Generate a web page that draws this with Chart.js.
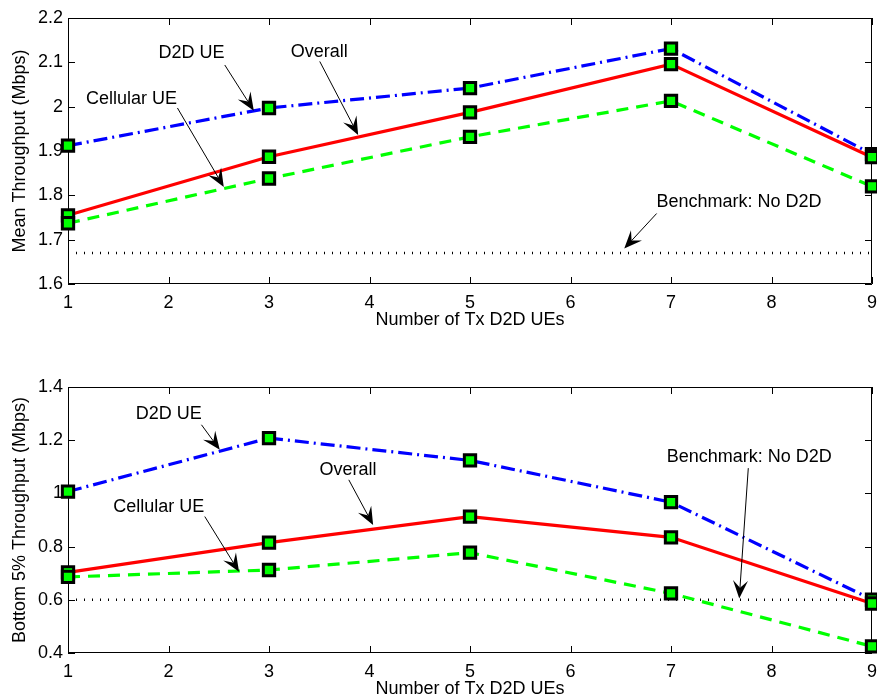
<!DOCTYPE html>
<html>
<head>
<meta charset="utf-8">
<script src="https://cdn.jsdelivr.net/npm/chart.js@4.4.0/dist/chart.umd.min.js"></script>
<style>
  html, body { margin: 0; padding: 0; background: #fff; overflow: hidden; width: 877px; height: 698px; }
  canvas { position: absolute; left: 0; }
  #mean-chart { top: 0; }
  #low-chart { top: 369px; }
</style>
</head>
<body>
<canvas id="mean-chart" width="877" height="349"></canvas>
<canvas id="low-chart" width="877" height="349"></canvas>
<script>
// x values (number of transmitting D2D UEs) and tick marks
const txUEs  = [1, 3, 5, 7, 9];
const xTicks = [1, 2, 3, 4, 5, 6, 7, 8, 9];

// Mean throughput (Mbps)
const meanD2D       = [1.912, 1.997, 2.042, 2.131, 1.893];
const meanOverall   = [1.755, 1.887, 1.987, 2.096, 1.886];
const meanCellular  = [1.737, 1.838, 1.932, 2.013, 1.820];
const meanBenchmark = 1.67;
const meanTicks     = [1.6, 1.7, 1.8, 1.9, 2.0, 2.1, 2.2];

// Bottom 5% throughput (Mbps)
const lowD2D       = [1.007, 1.208, 1.124, 0.967, 0.601];
const lowOverall   = [0.703, 0.815, 0.913, 0.835, 0.586];
const lowCellular  = [0.686, 0.712, 0.777, 0.624, 0.425];
const lowBenchmark = 0.60;
const lowTicks     = [0.4, 0.6, 0.8, 1.0, 1.2, 1.4];

// Text arrows, in data units: label centre, arrow tail, arrow head
const meanNotes = [
  { text: 'D2D UE',            at: [2.228, 2.121], from: [2.560, 2.094], to: [2.849, 1.991] },
  { text: 'Overall',           at: [3.499, 2.123], from: [3.505, 2.102], to: [3.887, 1.936] },
  { text: 'Cellular UE',       at: [1.631, 2.018], from: [2.089, 1.997], to: [2.550, 1.819] },
  { text: 'Benchmark: No D2D', at: [7.676, 1.784], from: [6.857, 1.759], to: [6.535, 1.680] }
];
const lowNotes = [
  { text: 'D2D UE',            at: [2.002, 1.299], from: [2.328, 1.258], to: [2.510, 1.164] },
  { text: 'Overall',           at: [3.787, 1.089], from: [3.794, 1.051], to: [4.036, 0.881] },
  { text: 'Cellular UE',       at: [1.903, 0.950], from: [2.361, 0.913], to: [2.702, 0.705] },
  { text: 'Benchmark: No D2D', at: [7.779, 1.135], from: [7.769, 1.095], to: [7.679, 0.605] }
];

const FONT = { family: '"Liberation Sans", Arial, Helvetica, sans-serif', size: 18 };
Chart.defaults.color = '#000';
Chart.defaults.font.family = FONT.family;

// Box around the plot plus inward ticks on all four sides (MATLAB look)
const matlabAxes = {
  id: 'matlabAxes',
  beforeDatasetsDraw(chart, args, opts) {
    const { ctx, chartArea: a, scales: { x, y } } = chart;
    const tl = 7;
    ctx.save();
    ctx.strokeStyle = '#000';
    ctx.lineWidth = 1;
    ctx.beginPath();
    ctx.rect(a.left + 0.5, a.top + 0.5, a.right - a.left - 1, a.bottom - a.top - 1);
    xTicks.forEach(v => {
      const px = Math.round(x.getPixelForValue(v)) + 0.5;
      ctx.moveTo(px, a.bottom); ctx.lineTo(px, a.bottom - tl);
      ctx.moveTo(px, a.top);    ctx.lineTo(px, a.top + tl);
    });
    opts.yTicks.forEach(v => {
      const py = Math.round(y.getPixelForValue(v)) + 0.5;
      ctx.moveTo(a.left, py);  ctx.lineTo(a.left + tl, py);
      ctx.moveTo(a.right, py); ctx.lineTo(a.right - tl, py);
    });
    ctx.stroke();
    ctx.restore();
  },
  afterDatasetsDraw(chart, args, opts) {
    const { ctx, scales: { x, y } } = chart;
    ctx.save();
    ctx.fillStyle = '#000';
    ctx.strokeStyle = '#000';
    ctx.font = `${FONT.size}px ${FONT.family}`;
    ctx.textAlign = 'center';
    ctx.textBaseline = 'middle';
    opts.notes.forEach(n => {
      ctx.fillText(n.text, x.getPixelForValue(n.at[0]), y.getPixelForValue(n.at[1]));
      const x0 = x.getPixelForValue(n.from[0]), y0 = y.getPixelForValue(n.from[1]);
      const x1 = x.getPixelForValue(n.to[0]),   y1 = y.getPixelForValue(n.to[1]);
      const len = Math.hypot(x1 - x0, y1 - y0);
      const dx = (x1 - x0) / len, dy = (y1 - y0) / len;
      const L = 18, W = 15;
      ctx.lineWidth = 1;
      ctx.beginPath();
      ctx.moveTo(x0, y0);
      ctx.lineTo(x1 - dx * L * 0.6, y1 - dy * L * 0.6);
      ctx.stroke();
      // arrow head with notched back
      ctx.beginPath();
      ctx.moveTo(x1, y1);
      ctx.lineTo(x1 - dx * L - dy * W / 2, y1 - dy * L + dx * W / 2);
      ctx.lineTo(x1 - dx * L * 0.6, y1 - dy * L * 0.6);
      ctx.lineTo(x1 - dx * L + dy * W / 2, y1 - dy * L - dx * W / 2);
      ctx.closePath();
      ctx.fill();
    });
    ctx.restore();
  }
};

function series(values, color, dash) {
  return {
    data: txUEs.map((v, i) => ({ x: v, y: values[i] })),
    borderColor: color,
    borderWidth: 3.2,
    borderDash: dash,
    tension: 0,
    fill: false,
    clip: false,
    pointStyle: 'rect',
    pointRadius: 8,
    pointBorderWidth: 3,
    pointBackgroundColor: '#00ff00',
    pointBorderColor: '#000'
  };
}

function benchmark(value) {
  return {
    data: [{ x: xTicks[0], y: value }, { x: xTicks[xTicks.length - 1], y: value }],
    borderColor: '#000',
    borderWidth: 2.5,
    borderDash: [1, 7],
    pointRadius: 0,
    fill: false
  };
}

function makeChart(id, d2d, overall, cellular, bench, yTicks, yTitle, notes) {
  return new Chart(document.getElementById(id), {
    type: 'line',
    data: {
      datasets: [
        series(cellular, '#00ff00', [12, 8]),
        series(overall,  '#ff0000', []),
        series(d2d,      '#0000ff', [14, 5, 2, 5]),
        benchmark(bench)
      ]
    },
    options: {
      responsive: false,
      animation: false,
      layout: { autoPadding: false, padding: { top: 18, right: 5, left: 0, bottom: 0 } },
      plugins: {
        legend: { display: false },
        tooltip: { enabled: false },
        matlabAxes: { yTicks, notes }
      },
      scales: {
        x: {
          type: 'linear',
          min: xTicks[0],
          max: xTicks[xTicks.length - 1],
          afterBuildTicks: s => { s.ticks = xTicks.map(v => ({ value: v })); },
          afterFit: s => { s.height = 65; s.paddingLeft = 0; s.paddingRight = 0; },
          grid: { display: false, drawTicks: false },
          border: { display: false },
          ticks: { font: FONT, color: '#000', padding: 8, maxRotation: 0 },
          title: { display: true, text: 'Number of Tx D2D UEs', font: FONT, color: '#000', padding: { top: 0, bottom: 18 } }
        },
        y: {
          min: yTicks[0],
          max: yTicks[yTicks.length - 1],
          afterBuildTicks: s => { s.ticks = yTicks.map(v => ({ value: v })); },
          afterFit: s => { s.width = 68; s.paddingTop = 0; s.paddingBottom = 0; },
          grid: { display: false, drawTicks: false },
          border: { display: false },
          ticks: { font: FONT, color: '#000', padding: 5, callback: v => String(Number(v.toFixed(1))) },
          title: { display: true, text: yTitle, font: FONT, color: '#000', padding: { top: 9, bottom: 0 } }
        }
      }
    },
    plugins: [matlabAxes]
  });
}

makeChart('mean-chart', meanD2D, meanOverall, meanCellular, meanBenchmark, meanTicks, 'Mean Throughput (Mbps)', meanNotes);
makeChart('low-chart', lowD2D, lowOverall, lowCellular, lowBenchmark, lowTicks, 'Bottom 5% Throughput (Mbps)', lowNotes);
</script>
</body>
</html>
